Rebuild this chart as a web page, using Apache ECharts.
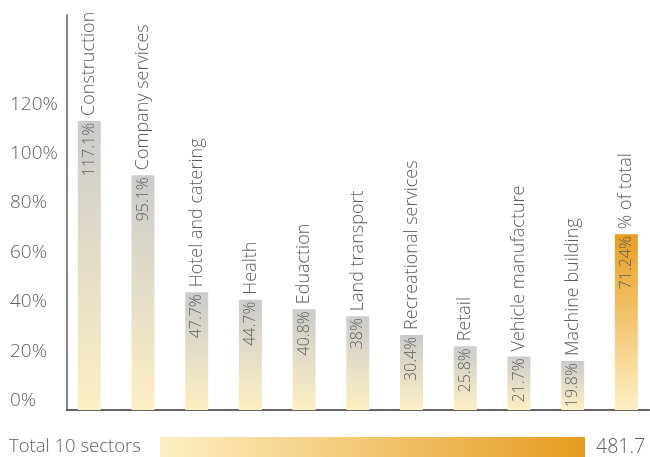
<!DOCTYPE html>
<html>
<head>
<meta charset="utf-8">
<script src="https://cdn.jsdelivr.net/npm/echarts@6/dist/echarts.min.js"></script>
<style>
html,body{margin:0;padding:0;background:#fff;}
#c{width:650px;height:457px;}
</style>
</head>
<body>
<div id="c"></div>
<script>
const categories = ['Construction','Company services','Hotel and catering','Health','Eduaction','Land transport','Recreational services','Retail','Vehicle manufacture','Machine building','% of total'];
const values = [117.1, 95.1, 47.7, 44.7, 40.8, 38, 30.4, 25.8, 21.7, 19.8, 71.24];
const yTicks = [0, 20, 40, 60, 80, 100, 120];
const totalLabel = ['Total 10 sectors'];
const totalValue = [481.7];

const FONT = '"Open Sans", "DejaVu Sans", sans-serif';
const TXT = '#5e5e5e';
const FW = 300;
const grayGrad = new echarts.graphic.LinearGradient(0,0,0,1,[{offset:0,color:'#cbcbcb'},{offset:1,color:'#fdefc3'}]);
const orangeGrad = new echarts.graphic.LinearGradient(0,0,0,1,[{offset:0,color:'#e89e20'},{offset:1,color:'#fdefc3'}]);
const hGrad = new echarts.graphic.LinearGradient(0,0,1,0,[{offset:0,color:'#fdefc3'},{offset:1,color:'#e69c1f'}]);

const barData = values.map((v,i)=>({
  value:[i,v],
  itemStyle:{color: i===values.length-1 ? orangeGrad : grayGrad}
}));
const labelData = values.map((v,i)=>({value:[i,v], name:categories[i]}));

const chart = echarts.init(document.getElementById('c'), null, {renderer:'canvas'});
chart.setOption({
  animation:false,
  textStyle:{fontFamily:FONT},
  grid:[
    {left:67, right:0, top:15, height:395},
    {left:160, right:65, top:437, height:20}
  ],
  xAxis:[
    {type:'value', gridIndex:0, min:-0.415, max:10.44,
     axisLine:{show:true, onZero:false, lineStyle:{color:'#333', width:1.5}},
     axisTick:{show:false}, axisLabel:{show:false}, splitLine:{show:false}},
    {type:'value', gridIndex:1, min:0, max:totalValue[0], show:false}
  ],
  yAxis:[
    {type:'value', gridIndex:0, min:0, max:160, interval:20,
     axisLine:{show:true, onZero:false, lineStyle:{color:'#8a8a8a', width:2}},
     axisTick:{show:false}, splitLine:{show:false},
     axisLabel:{align:'left', margin:57, verticalAlign:'bottom', fontSize:19, fontWeight:FW, color:TXT, fontFamily:FONT,
       formatter:v=> yTicks.indexOf(v)>=0 ? v+'%' : ''}},
    {type:'category', gridIndex:1, data:totalLabel,
     axisLine:{show:false}, axisTick:{show:false},
     axisLabel:{align:'left', margin:151, fontSize:18.5, fontWeight:FW, color:TXT, fontFamily:FONT}}
  ],
  series:[
    {type:'bar', xAxisIndex:0, yAxisIndex:0, barWidth:23, data:barData,
     label:{show:true, position:'insideTop', distance:2, rotate:90, align:'right', verticalAlign:'middle',
       fontSize:16, fontWeight:FW, color:TXT, fontFamily:FONT, formatter:p=>p.value[1]+'%'}},
    {type:'bar', xAxisIndex:0, yAxisIndex:0, barWidth:23, barGap:'-100%', data:labelData,
     itemStyle:{color:'rgba(0,0,0,0)'}, silent:true,
     label:{show:true, position:'top', distance:5, rotate:90, align:'left', verticalAlign:'middle',
       fontSize:18, fontWeight:FW, color:TXT, fontFamily:FONT, formatter:p=>p.name}},
    {type:'bar', xAxisIndex:1, yAxisIndex:1, barWidth:20, data:totalValue,
     itemStyle:{color:hGrad},
     label:{show:true, position:'right', distance:11, fontSize:19.5, fontWeight:FW, color:TXT, fontFamily:FONT,
       formatter:p=>String(p.value)}}
  ]
});
</script>
</body>
</html>
